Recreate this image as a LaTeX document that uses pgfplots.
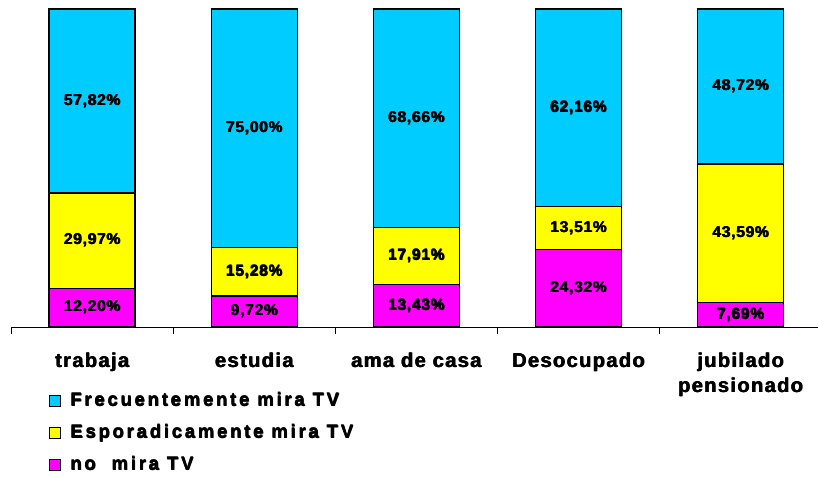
\documentclass[border=0pt]{standalone}
\usepackage{fontspec}
\setmainfont{Liberation Sans}
\newfontfamily\barfont{Liberation Sans}[LetterSpace=5]
\newfontfamily\catfont{Liberation Sans}[LetterSpace=7]
\newfontfamily\legfont{Liberation Sans}[LetterSpace=15]
\newcommand\hb[1]{\leavevmode\rlap{\hskip0.6bp\relax #1}\rlap{\raisebox{0.3bp}{#1}}#1}
\usepackage{pgfplots}
\pgfplotsset{compat=1.18}
\definecolor{cfreq}{HTML}{00CCFF}
\definecolor{cesp}{HTML}{FFFF00}
\definecolor{cno}{HTML}{FF00FF}
\begin{document}
\begin{tikzpicture}
\useasboundingbox (-11bp,-150bp) rectangle (807bp,327bp);
\begin{axis}[
  at={(0,0)}, anchor=south west,
  scale only axis, width=807bp, height=318bp,
  ybar stacked, bar width=86bp,
  xmin=-0.5, xmax=4.478, ymin=0, ymax=100,
  axis x line*=bottom, axis y line=none,
  x axis line style={black, line width=1pt, -},
  xtick={0,1,2,3,4},
  xticklabels={\hb{trabaja}, \hb{estudia}, \hb{ama de casa}, \hb{Desocupado}, {\hb{jubilado}\\\hb{pensionado}}},
  major tick length=0pt,
  minor xtick={-0.5,0.5,1.5,2.5,3.5},
  minor tick length=7bp, tick align=outside,
  minor x tick style={black, line width=1pt},
  xticklabel style={font=\catfont\fontsize{20bp}{25bp}\selectfont\bfseries, align=center, yshift=-22bp},
  /pgf/number format/.cd, use comma, fixed, fixed zerofill, precision=2, assume math mode=true,
  /pgfplots/.cd,
  point meta=rawy,
  nodes near coords={\hb{\pgfmathprintnumber{\pgfplotspointmeta}\%}},
  every node near coord/.append style={font=\barfont\fontsize{15.5bp}{18bp}\selectfont\bfseries, anchor=center, black},
  reverse legend,
  legend style={at={(0.0471,-0.2044)}, anchor=north west, draw=none, fill=none, inner sep=0pt,
    font=\legfont\fontsize{18.5bp}{22bp}\selectfont\bfseries, row sep=14bp,
    nodes={inner sep=0pt, text height=14bp, text depth=4bp},
    /tikz/every odd column/.append style={column sep=9bp}},
  legend cell align=left,
  legend image code/.code={\draw[#1, line width=1.2bp] (0bp,-5.5bp) rectangle (11bp,5.5bp);},
]
\addplot[fill=cno, draw=black, line width=1.3bp] coordinates {(0,12.20) (1,9.72) (2,13.43) (3,24.32) (4,7.69)};
\addplot[fill=cesp, draw=black, line width=1.3bp] coordinates {(0,29.97) (1,15.28) (2,17.91) (3,13.51) (4,43.59)};
\addplot[fill=cfreq, draw=black, line width=1.3bp] coordinates {(0,57.82) (1,75.00) (2,68.66) (3,62.16) (4,48.72)};
\legend{\hb{no\ \ mira TV}, \hb{Esporadicamente mira TV}, \hb{Frecuentemente mira TV}}
\end{axis}
\end{tikzpicture}
\end{document}
